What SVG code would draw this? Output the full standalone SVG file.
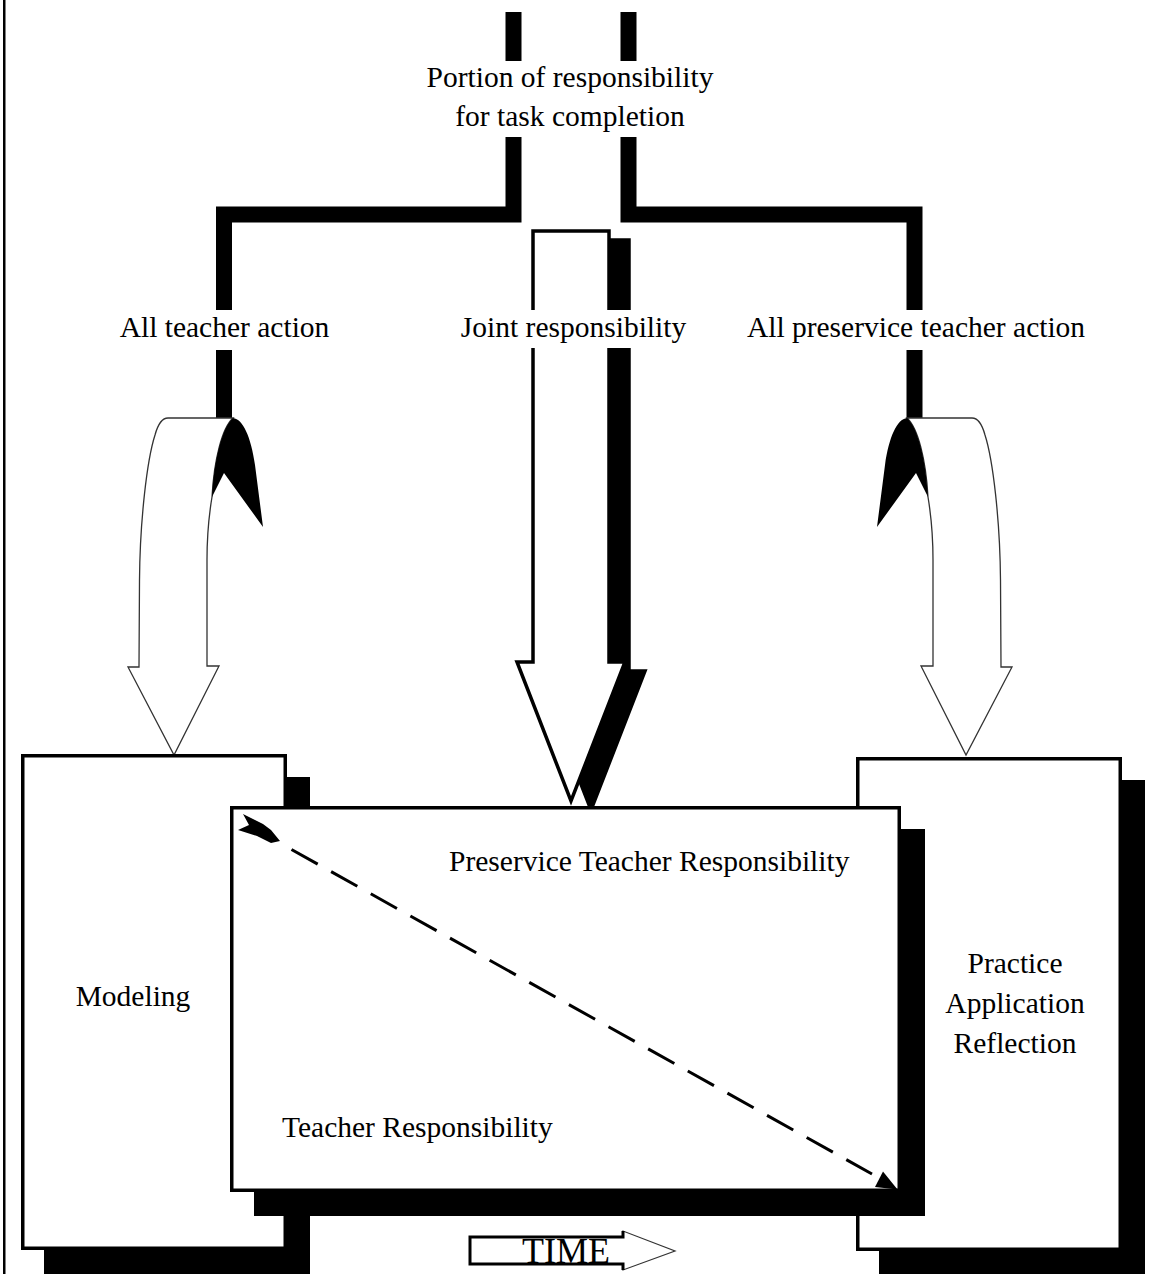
<svg xmlns="http://www.w3.org/2000/svg" width="1152" height="1274" viewBox="0 0 1152 1274">
<defs>
<style>
.t{font-family:"Liberation Serif","Times New Roman",serif;font-size:29.5px;fill:#000}
.bar{fill:none;stroke:#000;stroke-width:16;stroke-linejoin:miter;stroke-linecap:butt}
.box{fill:#fff;stroke:#000;stroke-width:3.5}
.sh{fill:#000}
.bg{fill:#fff}
.curl{fill:#fff;stroke:#333;stroke-width:1.3;stroke-linejoin:miter}
</style>
<g id="curl">
<path class="curl" d="M 168 418 L 233 418 C 222 428, 214 460, 212 497 C 209 515, 207 535, 207 560 L 207 666 L 219 666 L 174 755 L 128 667 L 139 667 L 139.5 580 C 140 520, 147 460, 155 435 C 158 424, 162 418, 168 418 Z"/>
<path fill="#000" d="M 233 418 C 243 419, 251 437, 255 465 L 263 527 L 224 473 L 212 497 C 214 460, 222 428, 233 418 Z"/>
</g>
</defs>
<rect x="0" y="0" width="1152" height="1274" fill="#fff"/>
<rect id="border-line" x="3" y="0" width="2.5" height="1274" fill="#000"/>

<g id="connectors">
<path class="bar" d="M 513.5 12 L 513.5 214.5 L 224 214.5 L 224 418"/>
<path class="bar" d="M 628.5 12 L 628.5 214.5 L 914.5 214.5 L 914.5 418"/>
<use href="#curl"/>
<use href="#curl" transform="matrix(-1 0 0 1 1140 0)"/>
<g id="joint-arrow">
<path class="sh" stroke="#000" stroke-width="3.5" d="M 553 240 L 629 240 L 629 671 L 645 671 L 591 810 L 537 671 L 553 671 Z"/>
<path fill="#fff" stroke="#000" stroke-width="3.5" d="M 533 231 L 609 231 L 609 662 L 625 662 L 571 801 L 517 662 L 533 662 Z"/>
</g>
</g>

<g id="label-portion">
<rect class="bg" x="420" y="61" width="300" height="76"/>
<text class="t" x="570" y="87" text-anchor="middle">Portion of responsibility</text>
<text class="t" x="570" y="126" text-anchor="middle">for task completion</text>
</g>
<g id="label-teacher">
<rect class="bg" x="115" y="310" width="220" height="40"/>
<text class="t" x="224.5" y="337" text-anchor="middle">All teacher action</text>
</g>
<g id="label-joint">
<rect class="bg" x="456" y="310" width="236" height="38"/>
<text class="t" x="573.5" y="337" text-anchor="middle">Joint responsibility</text>
</g>
<g id="label-preservice">
<rect class="bg" x="741" y="310" width="350" height="40"/>
<text class="t" x="916" y="337" text-anchor="middle">All preservice teacher action</text>
</g>

<g id="modeling">
<rect class="sh" x="44" y="777" width="266" height="497"/>
<rect class="box" x="22.75" y="755.75" width="262.5" height="492.5"/>
<text class="t" x="133" y="1006" text-anchor="middle">Modeling</text>
</g>

<g id="practice">
<rect class="sh" x="879" y="780" width="266" height="494"/>
<rect class="box" x="857.75" y="758.75" width="262.5" height="490.5"/>
<text class="t" x="1015" y="973" text-anchor="middle">Practice</text>
<text class="t" x="1015" y="1013" text-anchor="middle">Application</text>
<text class="t" x="1015" y="1053" text-anchor="middle">Reflection</text>
</g>

<g id="responsibility">
<rect class="sh" x="254" y="829" width="671" height="387"/>
<rect class="box" x="231.75" y="807.75" width="667.5" height="382.5"/>
<text class="t" x="449" y="871">Preservice Teacher Responsibility</text>
<text class="t" x="282" y="1137">Teacher Responsibility</text>
<g id="diagonal">
<polygon fill="#000" points="243,814 263,824 271,830 280,841 271,843 257,836 238,830 249,825"/>
<line x1="291.5" y1="849.5" x2="872" y2="1174" stroke="#000" stroke-width="3" stroke-dasharray="30 15.4"/>
<polygon fill="#000" points="883,1171.5 875,1187 897.5,1189.5"/>
</g>
</g>

<g id="time">
<path fill="#fff" stroke="#333" stroke-width="1.2" d="M 470 1237 L 623 1237 L 623 1231 L 675 1251 L 623 1270 L 623 1264 L 470 1264 Z"/>
<path fill="none" stroke="#000" stroke-width="3" d="M 623 1231 L 623 1237 L 470 1237 L 470 1264 L 623 1264 L 623 1270"/>
<text x="522" y="1263" style="font-family:'Liberation Serif','Times New Roman',serif;font-size:36px">TIME</text>
</g>
</svg>
